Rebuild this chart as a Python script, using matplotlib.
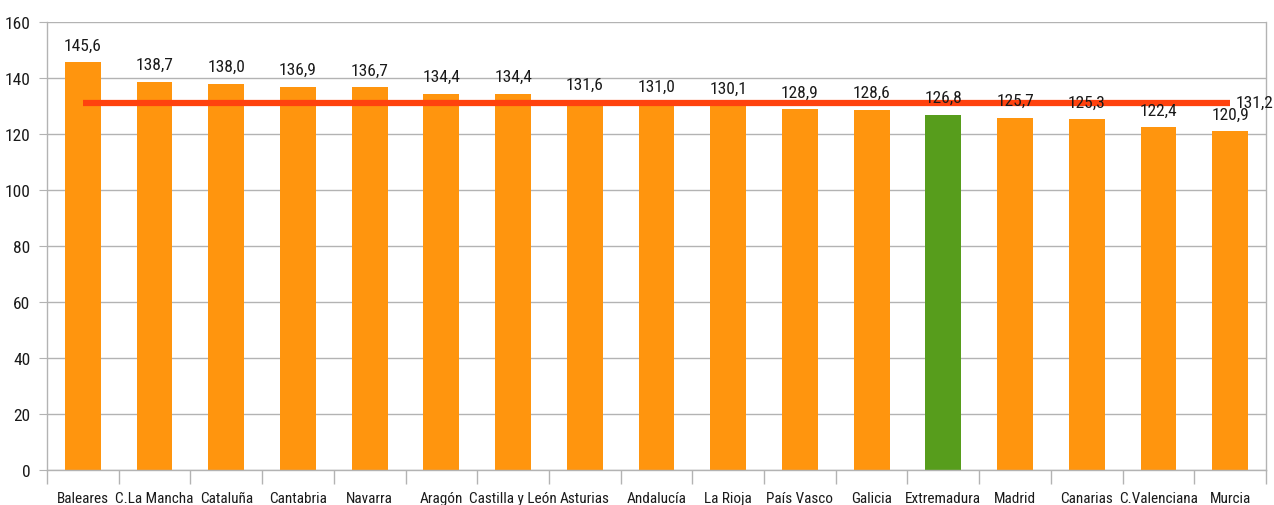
import numpy as np
import matplotlib.pyplot as plt
from matplotlib.ticker import MultipleLocator, FixedLocator

regiones = ["Baleares", "C.La Mancha", "Cataluña", "Cantabria", "Navarra",
            "Aragón", "Castilla y León", "Asturias", "Andalucía", "La Rioja",
            "País Vasco", "Galicia", "Extremadura", "Madrid", "Canarias",
            "C.Valenciana", "Murcia"]
valores = [145.6, 138.7, 138.0, 136.9, 136.7, 134.4, 134.4, 131.6, 131.0,
           130.1, 128.9, 128.6, 126.8, 125.7, 125.3, 122.4, 120.9]
media = 131.2
destacada = "Extremadura"

plt.rcParams['font.family'] = ['Roboto Condensed', 'DejaVu Sans']

fig = plt.figure(figsize=(12.74, 5.06), dpi=100)
ax = fig.add_axes([47/1274, 35/506, (1266-47)/1274, (471-23)/506])

x = np.arange(len(regiones))
colores = ["#579d1c" if r == destacada else "#ff950e" for r in regiones]
ax.bar(x, valores, width=0.5, color=colores, zorder=2)

for xi, v in zip(x, valores):
    ax.annotate(f"{v:.1f}".replace(".", ","), (xi, v), xytext=(0, 7),
                textcoords="offset points", ha="center", va="bottom",
                fontsize=12.5, color="#1a1a1a", zorder=4)

ax.plot([x[0], x[-1]], [media, media], color="#ff420e", lw=4.5, zorder=3,
        solid_capstyle="butt")
ax.annotate(f"{media:.1f}".replace(".", ","), (x[-1], media), xytext=(4, 0),
            textcoords="offset points", ha="left", va="center",
            fontsize=12.5, color="#1a1a1a", zorder=4)

ax.set_xlim(-0.5, len(regiones) - 0.5)
ax.set_ylim(0, 160)
ax.yaxis.set_major_locator(MultipleLocator(20))
ax.grid(axis="y", color="#b3b3b3", lw=1, zorder=0)

ax.set_xticks(x)
ax.set_xticklabels(regiones, fontsize=11, color="#1a1a1a")
ax.xaxis.set_minor_locator(FixedLocator(np.arange(-0.5, len(regiones), 1)))
ax.tick_params(axis="x", which="major", length=0, pad=15)
ax.tick_params(axis="x", which="minor", length=10, color="#b3b3b3", width=1)
ax.tick_params(axis="y", length=6, color="#b3b3b3", labelsize=12.5, pad=6,
               labelcolor="#1a1a1a")

ax.spines["top"].set_visible(False)
for s in ["left", "bottom", "right"]:
    ax.spines[s].set_color("#b3b3b3")
    ax.spines[s].set_linewidth(1)

fig.savefig("out.png", dpi=100)
